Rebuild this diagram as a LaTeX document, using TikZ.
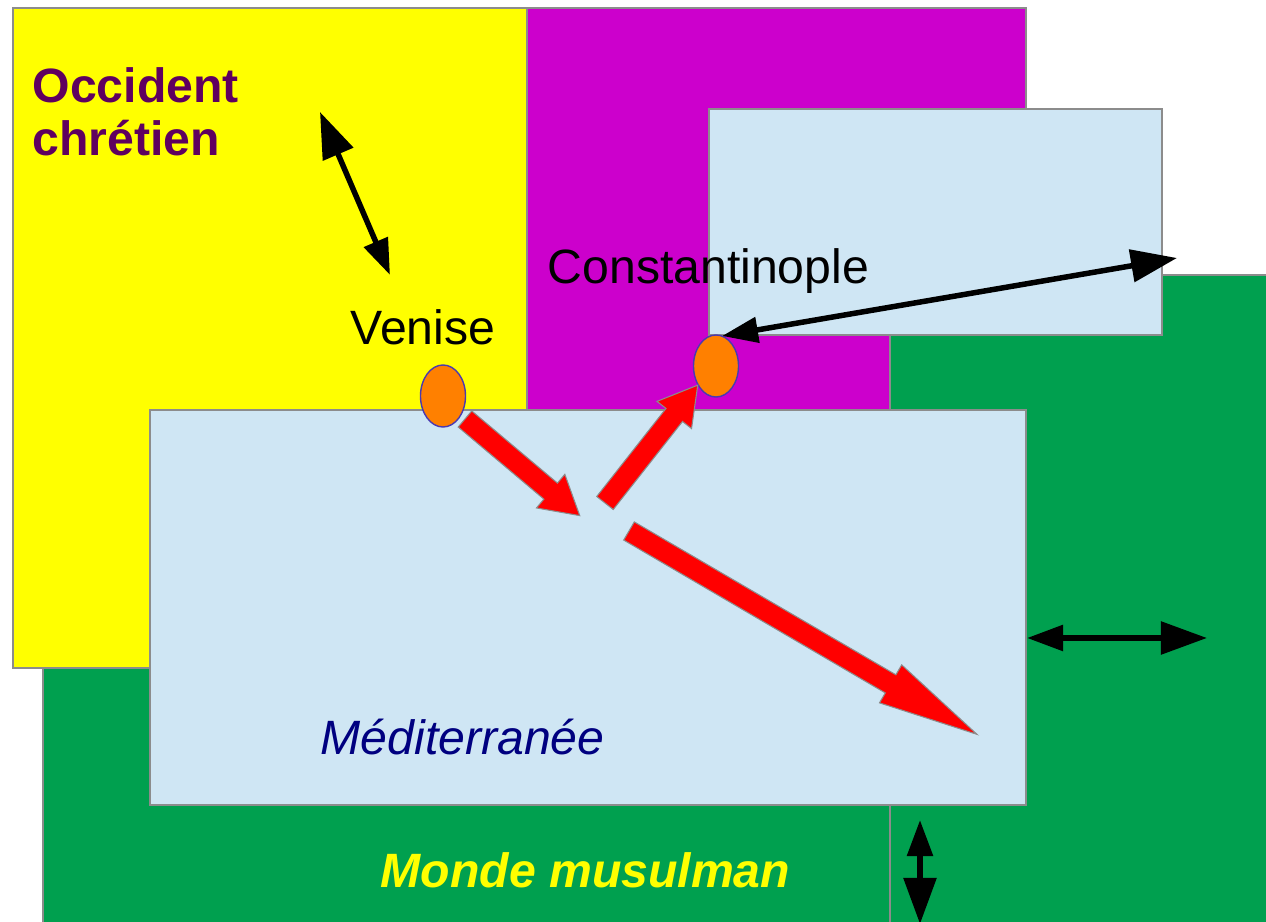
\documentclass[tikz,border=0pt]{standalone}
\usepackage{fontspec}
\setmainfont{Liberation Sans}
\usetikzlibrary{arrows.meta}
\usetikzlibrary{shapes.geometric}
\definecolor{westyellow}{HTML}{FFFF00}
\definecolor{byzpurple}{HTML}{CC00CC}
\definecolor{islamgreen}{HTML}{00A04F}
\definecolor{seablue}{HTML}{CFE6F4}
\definecolor{edgegray}{HTML}{8C8C8C}
\definecolor{cityorange}{HTML}{FF8000}
\definecolor{cityedge}{HTML}{4A3AB0}
\definecolor{westtext}{HTML}{5F005F}
\definecolor{seatext}{HTML}{000080}
\tikzset{
  block arrow/.pic={
    \tikzset{%
      /blockarrow/.cd,
      #1
    }
    \filldraw [pic actions]
    (0,-\bawidth/2) -- (\balength-\batip,-\bawidth/2) -- (\balength-\batip,-\bahead/2) -- (\balength,0)
    -- (\balength-\batip,\bahead/2) -- (\balength-\batip,\bawidth/2) -- (0,\bawidth/2) -- cycle;
  },
  /blockarrow/.cd,
  length/.store in=\balength,
  width/.store in=\bawidth,
  head/.store in=\bahead,
  tip/.store in=\batip,
  length=150,
  width=21,
  head=44,
  tip=38,
}
\tikzset{
  region/.style={draw=edgegray, line width=0.4pt},
  city/.style={ellipse, draw=cityedge, fill=cityorange, line width=0.4pt, minimum width=0.45cm, minimum height=0.62cm, inner sep=0pt},
  link/.style={line width=0.055cm, {Triangle[length=0.36cm,width=0.25cm]}-{Triangle[length=0.46cm,width=0.32cm]}},
  trade/.style={fill=red, draw=edgegray, line width=0.3pt},
  maptext/.style={anchor=base west, inner sep=0pt, font=\fontsize{13.7}{15}\selectfont},
}
\begin{document}
\begin{tikzpicture}[x=0.01cm, y=-0.01cm]
    \clip (0,0) rectangle (1266,922);

    % regions
    \filldraw [region, fill=islamgreen] (43,400) rectangle (890,940);
    \filldraw [region, fill=westyellow] (13,8) rectangle (527,668);
    \filldraw [region, fill=byzpurple] (527,8) rectangle (1026,410);
    \filldraw [region, fill=islamgreen] (890,275) rectangle (1280,940);
    \filldraw [region, fill=seablue] (709,109) rectangle (1162,335);
    \filldraw [region, fill=seablue] (150,410) rectangle (1026,805);

    % texts
    \node [maptext, font=\fontsize{13.7}{15}\selectfont\bfseries, text=westtext] (occident) at (32,103) {Occident};
    \node [maptext, font=\fontsize{13.7}{15}\selectfont\bfseries, text=westtext] (chretien) at (32,156) {chrétien};
    \node [maptext] (veniselabel) at (350,345) {Venise};
    \node [maptext] (constlabel) at (547,284) {Constantinople};
    \node [maptext, font=\fontsize{13.7}{15}\selectfont\itshape, text=seatext] (mediterranee) at (320,755) {Méditerranée};
    \node [maptext, font=\fontsize{13.7}{15}\selectfont\bfseries\itshape, text=westyellow] (monde) at (380,888) {Monde musulman};

    % cities
    \node [city] (venise) at (443,396) {};
    \node [city] (constantinople) at (716,366) {};

    % trade routes
    \coordinate (route1) at (465,419);
    \coordinate (route2) at (605,503);
    \coordinate (route3) at (629,531);
    \pic [trade, rotate=-40.1] at (route1) {block arrow={length=150}};
    \pic [trade, rotate=51.8] at (route2) {block arrow={length=150}};
    \pic [trade, rotate=-30.3] at (route3) {block arrow={length=403, tip=100}};

    % contacts
    \coordinate (west1) at (390,275);
    \coordinate (west2) at (320,112);
    \coordinate (east1) at (722,336);
    \coordinate (east2) at (1177,258);
    \coordinate (south1) at (1027,638);
    \coordinate (south2) at (1207,638);
    \coordinate (down1) at (920,820);
    \coordinate (down2) at (920,924);
    \draw [link] (west1) -- (west2);
    \draw [link] (east1) -- (east2);
    \draw [link] (south1) -- (south2);
    \draw [link] (down1) -- (down2);

  \end{tikzpicture}
\end{document}
